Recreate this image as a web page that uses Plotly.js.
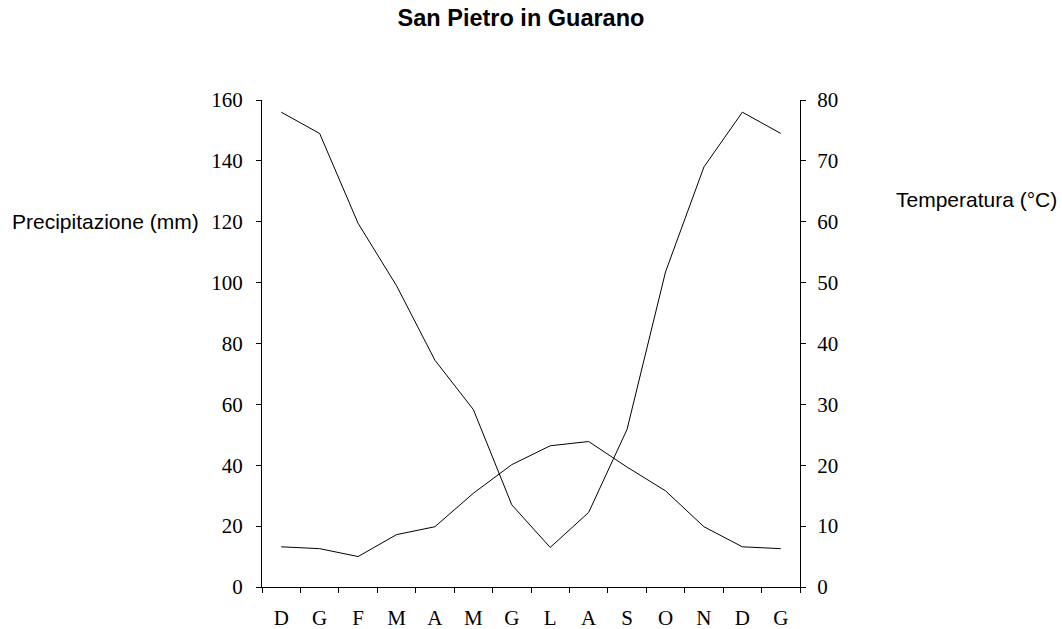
<!DOCTYPE html>
<html>
<head>
<meta charset="utf-8">
<script src="https://cdn.plot.ly/plotly-3.0.1.min.js"></script>
<style>html,body{margin:0;padding:0;background:#fff;}#chart{width:1062px;height:629px;}</style>
</head>
<body>
<div id="chart"></div>
<script>
const months = ['D','G','F','M','A','M','G','L','A','S','O','N','D','G'];
const precipitation = [156, 149, 119.5, 99, 74.5, 58.3, 27, 13, 24.5, 51.8, 103.5, 138, 156, 149];
const temperature = [6.6, 6.3, 5.0, 8.6, 9.9, 15.4, 20.1, 23.2, 23.9, 19.7, 15.8, 9.9, 6.6, 6.3];
const precipTicks = [0, 20, 40, 60, 80, 100, 120, 140, 160];
const tempTicks = [0, 10, 20, 30, 40, 50, 60, 70, 80];

const idx = months.map((_, i) => i);
const bounds = [-0.5].concat(months.map((_, i) => i + 0.5));
const serif = 'Liberation Serif, Times New Roman, serif';
const sans = 'Liberation Sans, Arial, sans-serif';

const traces = [
  {x: idx, y: precipitation, type: 'scatter', mode: 'lines', line: {color: '#000', width: 1}, yaxis: 'y', xaxis: 'x', name: 'Precipitazione'},
  {x: idx, y: temperature, type: 'scatter', mode: 'lines', line: {color: '#000', width: 1}, yaxis: 'y2', xaxis: 'x', name: 'Temperatura'}
];

const layout = {
  width: 1062, height: 629,
  margin: {l: 262, r: 262, t: 100, b: 42, pad: 0},
  paper_bgcolor: '#fff', plot_bgcolor: '#fff',
  showlegend: false,
  title: {text: '<b>San Pietro in Guarano</b>', font: {family: sans, size: 23.5, color: '#000'},
          x: 521/1062, xref: 'container', xanchor: 'center', y: 1 - 18/629, yref: 'container', yanchor: 'middle'},
  xaxis: {range: [-0.5, 13.5], tickmode: 'array', tickvals: idx, ticktext: months, ticks: '',
          showline: true, linecolor: '#000', linewidth: 1, showgrid: false, zeroline: false,
          tickfont: {family: serif, size: 21, color: '#000'}, ticklabelstandoff: 12,
          minor: {tickmode: 'array', tickvals: bounds, ticks: 'outside', ticklen: 5, tickcolor: '#000', tickwidth: 1, showgrid: false}},
  xaxis2: {range: [-0.5, 13.5], overlaying: 'x', anchor: 'y', side: 'bottom', tickmode: 'array', tickvals: bounds,
           ticks: 'inside', ticklen: 6, tickcolor: '#000', tickwidth: 1, showticklabels: false, showline: false, showgrid: false, zeroline: false},
  yaxis: {range: [0, 160], tickmode: 'array', tickvals: precipTicks, ticks: 'outside', ticklen: 5, tickcolor: '#000',
          showline: true, linecolor: '#000', linewidth: 1, showgrid: false, zeroline: false,
          tickfont: {family: serif, size: 21, color: '#000'}, ticklabelstandoff: 9},
  yaxis2: {range: [0, 80], overlaying: 'y', side: 'right', anchor: 'x', tickmode: 'array', tickvals: tempTicks, ticks: 'outside', ticklen: 5, tickcolor: '#000',
           showline: true, linecolor: '#000', linewidth: 1, showgrid: false, zeroline: false,
           tickfont: {family: serif, size: 21, color: '#000'}, ticklabelstandoff: 7},
  annotations: [
    {text: 'Precipitazione (mm)', xref: 'paper', yref: 'paper', x: (10 - 262)/538, y: 0.75, xanchor: 'left', yanchor: 'middle',
     showarrow: false, font: {family: sans, size: 21, color: '#000'}},
    {text: 'Temperatura (°C)', xref: 'paper', yref: 'paper', x: (894 - 262)/538, y: 0.7957, xanchor: 'left', yanchor: 'middle',
     showarrow: false, font: {family: sans, size: 21, color: '#000'}}
  ]
};

Plotly.newPlot('chart', traces, layout, {staticPlot: true, displayModeBar: false});
</script>
</body>
</html>
